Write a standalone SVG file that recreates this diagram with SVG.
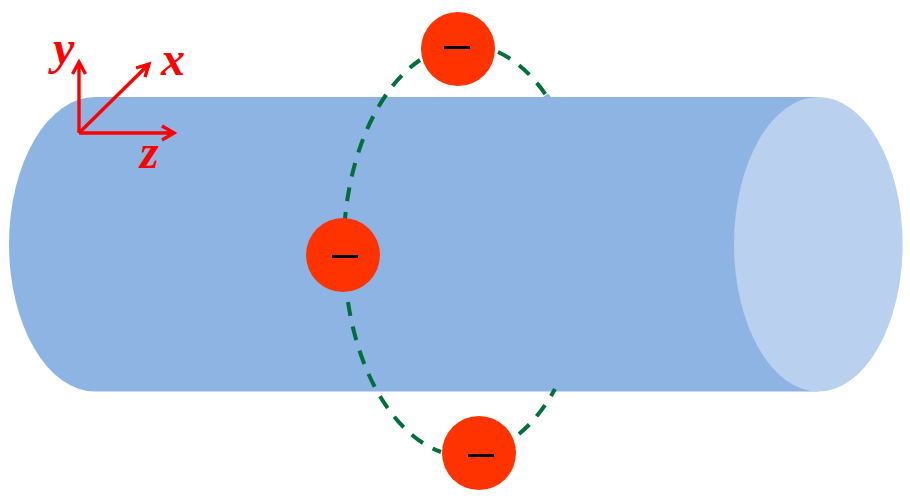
<svg xmlns="http://www.w3.org/2000/svg" width="910" height="501" viewBox="0 0 910 501">
<style>
.orbit{fill:none;stroke:#006f3c;stroke-width:4;stroke-dasharray:14 11}
.ax{fill:none;stroke:#ff0000;stroke-width:3.4;stroke-linejoin:miter}
.lab{font-family:"Liberation Serif",serif;font-style:italic;font-weight:bold;font-size:48px;fill:#ff0000}
.e{fill:#ff3300}
.m{stroke:#000;stroke-width:3;fill:none}
</style>
<rect width="910" height="501" fill="#fff"/>
<g id="cylinder">
<path d="M95 97H818V391.500H95A86 147.250 0 0 1 95 97Z" fill="#8eb4e3"/>
<path d="M543 97L548 93.500L551 97Z" fill="#8eb4e3"/>
<ellipse cx="818.300" cy="244.250" rx="84.300" ry="147.250" fill="#b9d0ee"/>
</g>
<g id="connectors">
<path class="orbit" stroke-dashoffset="7" d="M345 219A123 205 0 0 1 420 60"/>
<path class="orbit" d="M498 52A123 205 0 0 1 546 95"/>
<path class="orbit" d="M348 302A123 205 0 0 0 441 452"/>
<path class="orbit" d="M519 434A123 205 0 0 0 555 389"/>
</g>
<g id="electron-top">
<circle class="e" cx="458" cy="49" r="37"/>
<path class="m" d="M444 47.500H470"/>
</g>
<g id="electron-left">
<circle class="e" cx="343" cy="255" r="37"/>
<path class="m" d="M332 256.500H358"/>
</g>
<g id="electron-bottom">
<circle class="e" cx="479" cy="453" r="37"/>
<path class="m" d="M468 455.500H494"/>
</g>
<g id="axes">
<path class="ax" d="M79 133V62M72.500 74L79 62L85.500 74"/>
<path class="ax" d="M79 133L149 64M136 68L149 64L145 77"/>
<path class="ax" d="M79 133H174M162 126L174 133L162 140"/>
<text class="lab" x="53" y="64">y</text>
<text class="lab" x="161" y="75">x</text>
<text class="lab" x="140" y="168">z</text>
</g>
</svg>
